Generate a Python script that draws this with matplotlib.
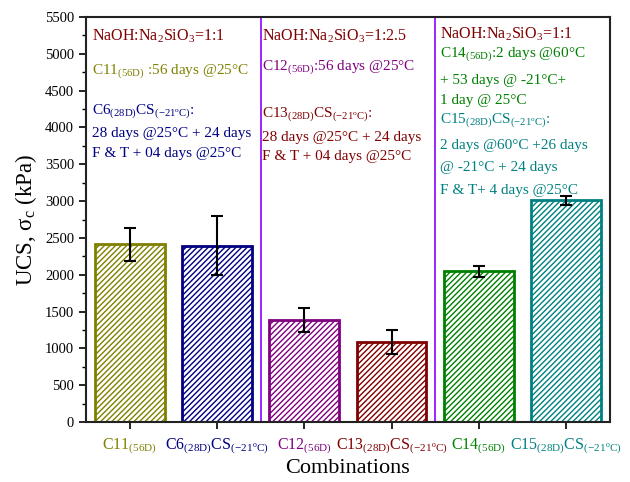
import numpy as np
import matplotlib
matplotlib.use("Agg")
import matplotlib.pyplot as plt
from matplotlib.ticker import MultipleLocator

plt.rcParams['font.family'] = ['Liberation Serif', 'DejaVu Serif']
plt.rcParams['mathtext.fontset'] = 'custom'
plt.rcParams['mathtext.rm'] = 'Liberation Serif'
plt.rcParams['mathtext.it'] = 'Liberation Serif:italic'
plt.rcParams['mathtext.bf'] = 'Liberation Serif:bold'
plt.rcParams['hatch.linewidth'] = 1.0

# データ
labels = [r'C11$_{\mathrm{(56D)}}$',
          r'C6$_{\mathrm{(28D)}}$CS$_{\mathrm{(-21^{o}C)}}$',
          r'C12$_{\mathrm{(56D)}}$',
          r'C13$_{\mathrm{(28D)}}$CS$_{\mathrm{(-21^{o}C)}}$',
          r'C14$_{\mathrm{(56D)}}$',
          r'C15$_{\mathrm{(28D)}}$CS$_{\mathrm{(-21^{o}C)}}$']
ucs = [2415, 2395, 1385, 1090, 2050, 3010]
ucs_err = [225, 400, 160, 165, 75, 60]
colors = ['#808000', '#000080', '#800080', '#800000', '#008000', '#008080']
dividers = [1.5, 3.5]


def main():
    fig = plt.figure(figsize=(6.3, 4.82), dpi=100)
    ax = fig.add_axes([0.1365, 0.1245, 0.8315, 0.8402])

    x = np.arange(len(ucs))
    ax.bar(x, ucs, width=0.8, color='white', edgecolor=colors, hatch='//////',
           linewidth=2.0, zorder=2)
    ax.errorbar(x, ucs, yerr=ucs_err, fmt='none', ecolor='black',
                elinewidth=1.5, capsize=4, capthick=1.5, zorder=3)

    for d in dividers:
        ax.axvline(d, color='#8B00FF', linewidth=1.2, zorder=1)

    ax.set_xlim(-0.5, 5.5)
    ax.set_ylim(0, 5500)
    ax.yaxis.set_major_locator(MultipleLocator(500))
    ax.yaxis.set_minor_locator(MultipleLocator(250))
    ax.set_xticks(x)
    ax.set_xticklabels(labels, fontsize=11.5)
    for t, c in zip(ax.get_xticklabels(), colors):
        t.set_color(c)
    ax.tick_params(axis='y', labelsize=10.5, direction='out', length=5, width=1.2)
    ax.tick_params(axis='y', which='minor', direction='out', length=3, width=1.0)
    ax.tick_params(axis='x', direction='out', length=5, width=1.2, pad=6)
    for s in ax.spines.values():
        s.set_linewidth(1.5)
        s.set_color('#222222')

    ax.set_ylabel(r'UCS, σ$_{\mathrm{c}}$ (kPa)', fontsize=16.5)
    ax.set_xlabel('Combinations', fontsize=16, labelpad=2)

    # 注記 (x は棒の番号, y は kPa)
    fs = 11
    c1 = -0.43
    ax.text(c1, 5240, r'NaOH:Na$_2$SiO$_3$=1:1', color='#800000', fontsize=fs + 0.5, va='center')
    ax.text(c1, 4770, r'C11$_{\mathrm{(56D)}}$ :56 days @25°C', color='#808000', fontsize=fs, va='center')
    ax.text(c1, 4220, r'C6$_{\mathrm{(28D)}}$CS$_{\mathrm{(-21^{o}C)}}$:', color='#000080', fontsize=fs, va='center')
    ax.text(c1, 3920, '28 days @25°C + 24 days', color='#000080', fontsize=fs, va='center')
    ax.text(c1, 3650, 'F & T + 04 days @25°C', color='#000080', fontsize=fs, va='center')

    c2 = 1.52
    ax.text(c2, 5240, r'NaOH:Na$_2$SiO$_3$=1:2.5', color='#800000', fontsize=fs + 0.5, va='center')
    ax.text(c2, 4820, r'C12$_{\mathrm{(56D)}}$:56 days @25°C', color='#800080', fontsize=fs, va='center')
    ax.text(c2, 4180, r'C13$_{\mathrm{(28D)}}$CS$_{\mathrm{(-21^{o}C)}}$:', color='#800000', fontsize=fs, va='center')
    ax.text(c2, 3860, '28 days @25°C + 24 days', color='#800000', fontsize=fs, va='center')
    ax.text(c2, 3600, 'F & T + 04 days @25°C', color='#800000', fontsize=fs, va='center')

    c3 = 3.56
    ax.text(c3, 5270, r'NaOH:Na$_2$SiO$_3$=1:1', color='#800000', fontsize=fs + 0.5, va='center')
    ax.text(c3, 4990, r'C14$_{\mathrm{(56D)}}$:2 days @60°C', color='#008000', fontsize=fs, va='center')
    ax.text(c3, 4640, '+ 53 days @ -21°C+', color='#008000', fontsize=fs, va='center')
    ax.text(c3, 4370, '1 day @ 25°C', color='#008000', fontsize=fs, va='center')
    ax.text(c3, 4100, r'C15$_{\mathrm{(28D)}}$CS$_{\mathrm{(-21^{o}C)}}$:', color='#008080', fontsize=fs, va='center')
    ax.text(c3, 3750, '2 days @60°C +26 days', color='#008080', fontsize=fs, va='center')
    ax.text(c3, 3450, '@ -21°C + 24 days', color='#008080', fontsize=fs, va='center')
    ax.text(c3, 3150, 'F & T+ 4 days @25°C', color='#008080', fontsize=fs, va='center')

    fig.savefig('out.png', dpi=100)


if __name__ == '__main__':
    main()
